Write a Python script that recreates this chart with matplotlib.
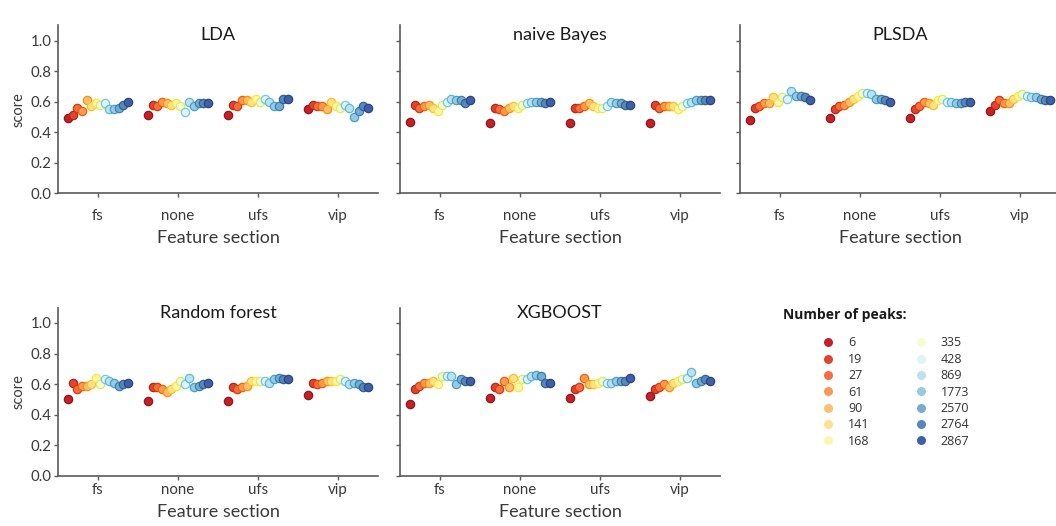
import colorsys

import matplotlib
matplotlib.use("Agg")
import matplotlib.pyplot as plt
from matplotlib.lines import Line2D
import numpy as np

# number of peaks used by each model run (one colour each)
peaks = [6, 19, 27, 61, 90, 141, 168, 335, 428, 869, 1773, 2570, 2764, 2867]
feature_sets = ["fs", "none", "ufs", "vip"]

# scores per feature set (rows: fs, none, ufs, vip; columns follow `peaks`)
lda_scores = [
    [0.49, 0.51, 0.56, 0.54, 0.61, 0.57, 0.59, 0.58, 0.59, 0.55, 0.55, 0.56, 0.58, 0.60],
    [0.51, 0.58, 0.57, 0.60, 0.59, 0.58, 0.59, 0.57, 0.53, 0.60, 0.57, 0.59, 0.59, 0.59],
    [0.51, 0.58, 0.57, 0.61, 0.61, 0.60, 0.62, 0.60, 0.62, 0.60, 0.57, 0.57, 0.62, 0.62],
    [0.55, 0.58, 0.57, 0.57, 0.55, 0.60, 0.57, 0.56, 0.58, 0.56, 0.50, 0.54, 0.57, 0.56],
]
nb_scores = [
    [0.47, 0.58, 0.56, 0.57, 0.58, 0.56, 0.54, 0.58, 0.60, 0.62, 0.61, 0.61, 0.59, 0.61],
    [0.46, 0.56, 0.555, 0.54, 0.56, 0.57, 0.56, 0.58, 0.59, 0.60, 0.60, 0.60, 0.59, 0.60],
    [0.46, 0.56, 0.56, 0.57, 0.59, 0.57, 0.56, 0.56, 0.57, 0.60, 0.59, 0.59, 0.58, 0.58],
    [0.46, 0.58, 0.56, 0.57, 0.57, 0.57, 0.55, 0.57, 0.59, 0.60, 0.61, 0.61, 0.61, 0.61],
]
plsda_scores = [
    [0.48, 0.56, 0.57, 0.59, 0.59, 0.63, 0.60, 0.63, 0.62, 0.67, 0.64, 0.64, 0.63, 0.61],
    [0.49, 0.55, 0.57, 0.58, 0.60, 0.62, 0.64, 0.66, 0.66, 0.65, 0.62, 0.62, 0.61, 0.60],
    [0.49, 0.55, 0.57, 0.60, 0.59, 0.58, 0.61, 0.62, 0.60, 0.60, 0.59, 0.59, 0.60, 0.60],
    [0.54, 0.58, 0.61, 0.59, 0.59, 0.62, 0.64, 0.65, 0.64, 0.63, 0.63, 0.62, 0.61, 0.61],
]
rf_scores = [
    [0.50, 0.61, 0.57, 0.59, 0.59, 0.60, 0.64, 0.60, 0.63, 0.62, 0.61, 0.59, 0.60, 0.61],
    [0.49, 0.58, 0.58, 0.57, 0.55, 0.57, 0.59, 0.62, 0.60, 0.64, 0.58, 0.59, 0.60, 0.61],
    [0.49, 0.58, 0.57, 0.58, 0.59, 0.62, 0.62, 0.62, 0.62, 0.61, 0.63, 0.64, 0.63, 0.63],
    [0.53, 0.61, 0.60, 0.61, 0.62, 0.62, 0.62, 0.63, 0.62, 0.60, 0.61, 0.60, 0.58, 0.58],
]
xgb_scores = [
    [0.47, 0.57, 0.59, 0.61, 0.61, 0.62, 0.60, 0.65, 0.65, 0.65, 0.60, 0.63, 0.62, 0.62],
    [0.51, 0.58, 0.57, 0.62, 0.58, 0.64, 0.58, 0.63, 0.63, 0.65, 0.66, 0.65, 0.61, 0.61],
    [0.51, 0.57, 0.58, 0.64, 0.60, 0.60, 0.61, 0.62, 0.61, 0.61, 0.62, 0.62, 0.62, 0.64],
    [0.52, 0.57, 0.58, 0.60, 0.58, 0.61, 0.62, 0.63, 0.64, 0.68, 0.61, 0.62, 0.63, 0.62],
]
model_names = ["LDA", "naive Bayes", "PLSDA", "Random forest", "XGBOOST"]

plt.rcParams["font.family"] = ["Lato", "DejaVu Sans"]

n = len(peaks)
colors = plt.get_cmap("RdYlBu")(np.linspace(0, 1, n + 2)[1:-1])


def darker(c, f=0.72):
    h, l, s = colorsys.rgb_to_hls(*c[:3])
    return colorsys.hls_to_rgb(h, l * f, s)


edges = [darker(c) for c in colors]

W, H = 1056, 526
fig = plt.figure(figsize=(W / 100, H / 100), dpi=100)

# (left px, bottom px, title y, tick pad) for each panel
panel_layout = [
    (58, 193.3, 0.945, 8.5),
    (400, 193.3, 0.945, 8.5),
    (740, 193.3, 0.945, 8.5),
    (58, 475.7, 0.97, 2.0),
    (400, 475.7, 0.97, 2.0),
]
all_scores = [lda_scores, nb_scores, plsda_scores, rf_scores, xgb_scores]

spine_col = "#5a5a5a"
text_col = "#3a3a3a"
offsets = (np.arange(n) - (n - 1) / 2) * 0.8 / n

for (left, bottom, ty, tpad), name, scores in zip(panel_layout, model_names, all_scores):
    ax = fig.add_axes([left / W, 1 - bottom / H, 320 / W, 168 / H])
    for k in range(n):
        xs = np.arange(len(feature_sets)) + offsets[k]
        ys = [row[k] for row in scores]
        ax.scatter(xs, ys, s=36, color=colors[k], edgecolors=[edges[k]],
                   linewidths=0.9, zorder=3, clip_on=False)
    ax.set_xlim(-0.5, 3.5)
    ax.set_ylim(0, 1.1)
    ax.set_xticks(range(len(feature_sets)))
    ax.set_xticklabels(feature_sets)
    ax.set_yticks(np.arange(0, 1.01, 0.2))
    for side in ("top", "right"):
        ax.spines[side].set_visible(False)
    for side in ("left", "bottom"):
        ax.spines[side].set_color(spine_col)
        ax.spines[side].set_linewidth(1.2)
    ax.tick_params(axis="x", length=3, width=1, color=spine_col, pad=tpad,
                   labelsize=10.8, labelcolor=text_col)
    ax.tick_params(axis="y", length=3, width=1, color=spine_col, pad=1.5,
                   labelsize=10.8, labelcolor=text_col)
    ax.set_xlabel("Feature section", fontsize=13, color=text_col, labelpad=5)
    if left == 58:
        ax.set_ylabel("score", fontsize=10.5, color=text_col, labelpad=4)
    else:
        ax.tick_params(axis="y", labelleft=False)
    ax.text(0.5, ty, name, transform=ax.transAxes, ha="center", va="center",
            fontsize=13, color="#1a1a1a")

# legend for the peak counts
handles = [Line2D([], [], linestyle="none", marker="o", markersize=6.5,
                  markerfacecolor=colors[k], markeredgewidth=0, label=str(p))
           for k, p in enumerate(peaks)]
fig.text(783 / W, 1 - 315 / H, "Number of peaks:", ha="left", va="center",
         fontsize=10, fontweight="bold", family=["Open Sans", "DejaVu Sans"], color="#1a1a1a")
fig.legend(handles=handles, ncol=2, loc="upper left",
           bbox_to_anchor=(820.5 / W, 1 - 336.5 / H), frameon=False,
           borderpad=0, borderaxespad=0, handlelength=1.2, handletextpad=1.0,
           columnspacing=3.5, labelspacing=0.27,
           prop={"family": ["Open Sans", "DejaVu Sans"], "size": 9},
           labelcolor="#333333")

fig.savefig("out.png", dpi=100)
